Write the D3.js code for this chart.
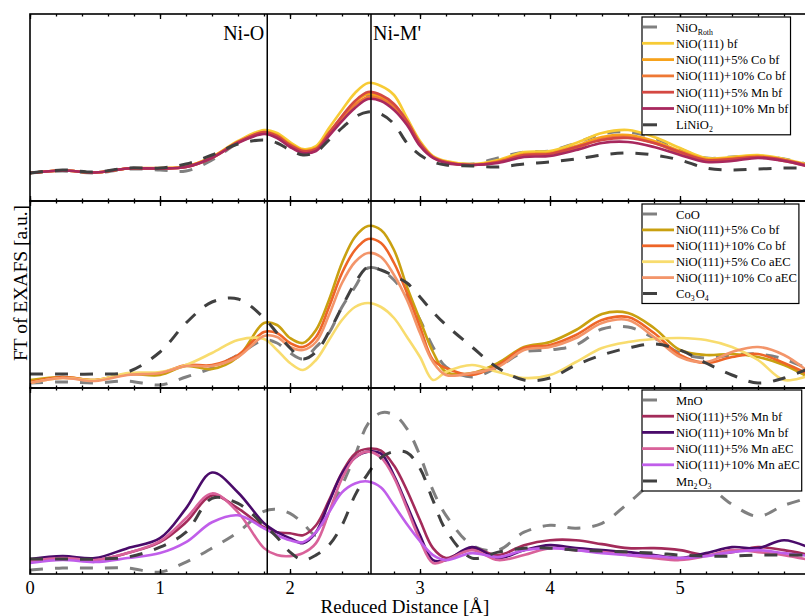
<!DOCTYPE html>
<html>
<head>
<meta charset="utf-8">
<script src="https://cdn.jsdelivr.net/npm/d3@7"></script>
<style>
  body { margin: 0; background: #fff; }
  text { font-family: "Liberation Serif", "Times New Roman", serif; }
</style>
</head>
<body>
<div id="wrapper"></div>
<script>
// shared x grid (reduced distance, Å)
const xGrid = [0, 0.25, 0.5, 0.75, 1.0, 1.2, 1.4, 1.6, 1.8, 1.9, 2.0, 2.1, 2.2, 2.3, 2.4, 2.5, 2.6, 2.7, 2.8, 2.9,
  3.0, 3.1, 3.2, 3.4, 3.6, 3.8, 4.0, 4.2, 4.4, 4.6, 4.8, 5.0, 5.2, 5.4, 5.6, 5.8, 6.0];
const xTicks = [0, 1, 2, 3, 4, 5, 6];
const markers = [1.825, 2.623];
const markerLabels = ["Ni-O", "Ni-M'"];

// panel 1 : Ni references and bf samples
const niORoth   = [2.8,3.0,2.8,3.2,3.1,3.0,4.1,5.8,6.8,6.4,5.5,4.9,5.1,6.7,8.3,9.7,10.5,10.3,9.5,7.9,5.7,4.4,3.9,3.7,4.3,4.9,5.0,5.8,6.7,6.9,6.3,5.2,4.3,4.4,4.5,4.2,3.6];
const nio111bf  = [2.8,3.05,2.85,3.25,3.25,3.45,4.4,6.0,7.1,6.8,5.9,5.2,5.5,7.3,9.1,10.8,11.8,11.5,10.6,8.3,6.0,4.5,4.0,3.7,4.1,4.9,5.0,5.8,6.8,7.1,6.4,5.3,4.3,4.4,4.6,4.2,3.6];
const co5bf_1   = [2.8,3.05,2.85,3.25,3.3,3.45,4.4,5.9,6.9,6.6,5.7,5.1,5.3,6.9,8.4,9.9,10.7,10.4,9.6,7.9,5.7,4.4,3.9,3.6,4.0,4.7,4.8,5.5,6.4,6.6,6.0,5.0,4.2,4.3,4.5,4.1,3.5];
const co10bf_1  = [2.8,3.05,2.85,3.25,3.25,3.4,4.3,5.85,6.8,6.4,5.5,4.9,5.1,6.7,8.2,9.6,10.4,10.2,9.4,7.8,5.6,4.35,3.85,3.6,3.9,4.6,4.7,5.3,6.2,6.4,5.8,4.8,4.0,4.1,4.4,4.0,3.45];
const mn5bf_1   = [2.8,3.05,2.85,3.25,3.25,3.4,4.35,5.9,6.9,6.5,5.6,5.0,5.2,6.8,8.5,10.0,10.9,10.6,9.7,8.0,5.8,4.4,3.9,3.6,3.9,4.6,4.7,5.4,6.1,6.3,5.8,4.9,4.1,4.2,4.4,4.1,3.5];
const mn10bf_1  = [2.8,3.05,2.85,3.25,3.25,3.4,4.3,5.8,6.7,6.3,5.4,4.8,5.0,6.5,8.0,9.3,10.2,10.0,9.1,7.6,5.5,4.3,3.8,3.6,3.8,4.4,4.5,5.1,5.8,5.9,5.4,4.6,3.9,4.0,4.3,4.0,3.4];
const liNiO2    = [2.8,3.1,2.9,3.3,3.3,3.7,4.6,5.7,6.1,5.8,5.1,4.6,4.9,6.1,7.3,8.4,8.9,8.7,7.7,5.8,4.6,3.9,3.6,3.5,3.4,3.7,3.9,4.2,4.6,4.8,4.6,4.1,3.3,3.1,3.2,3.3,3.3];

// panel 2 : Co
const coO       = [0.5,0.6,0.5,0.7,0.3,1.1,2.0,3.3,4.8,4.5,3.5,2.9,4.1,5.5,8.1,10.1,12.0,11.8,10.8,9.1,6.8,4.1,2.1,1.1,2.1,3.6,3.8,4.3,5.9,6.1,5.0,3.5,3.0,3.3,3.4,2.9,1.8];
const co5bf     = [0.8,1.1,0.8,1.4,1.3,2.2,1.9,3.1,6.5,6.3,5.0,4.5,5.8,8.8,12.5,15.1,16.2,15.8,13.8,10.1,6.8,3.6,1.6,1.5,2.5,4.1,4.6,5.8,7.4,7.5,6.0,3.8,3.3,3.4,3.1,2.3,1.0];
const co10bf    = [0.6,1.1,0.8,1.4,1.5,2.3,2.3,3.3,5.6,5.5,4.5,4.1,5.1,8.1,11.5,13.8,14.9,14.5,12.5,9.5,6.1,2.8,2.0,1.3,2.3,4.0,4.3,5.3,6.8,7.1,5.5,3.3,2.5,3.1,3.4,2.5,1.3];
const co5aec    = [0.5,1.0,0.8,1.5,1.6,2.3,3.5,4.8,4.9,3.8,2.5,1.8,2.8,4.8,6.8,8.1,8.5,8.1,7.0,5.1,3.1,0.8,1.6,2.3,1.6,1.0,1.3,2.6,4.0,4.6,4.9,5.0,4.8,4.1,2.8,0.8,1.3];
const co10aec   = [0.5,1.0,0.7,1.3,1.5,2.2,2.2,3.1,5.2,5.1,4.1,3.8,4.6,7.3,10.5,12.6,13.5,13.1,11.3,8.8,5.5,2.6,1.3,1.5,2.1,3.8,4.1,5.0,6.5,6.8,5.1,3.1,2.6,3.6,4.1,3.3,1.5];
const co3O4     = [1.4,1.4,1.4,1.6,3.6,6.5,8.6,8.9,7.0,5.5,4.0,2.9,3.6,5.6,8.1,10.5,12.1,11.8,11.2,10.5,9.1,7.6,6.3,4.1,2.0,0.8,1.0,2.3,3.3,4.0,4.4,3.8,2.5,1.3,0.5,1.0,2.0];

// panel 3 : Mn
const mnO       = [0.4,0.6,0.6,0.6,0.2,1.2,2.6,4.2,6.3,6.5,6.1,5.1,3.9,6.2,8.9,11.9,15.1,16.2,16.0,14.6,11.9,8.4,5.9,2.9,2.4,4.2,4.9,4.6,5.1,7.1,9.2,9.9,9.0,7.0,5.8,6.9,7.7];
const mn5bf     = [1.4,1.7,1.4,2.1,3.2,5.2,7.9,6.6,4.7,4.2,4.1,3.9,4.9,7.4,10.2,12.1,12.6,12.4,10.9,8.4,5.4,2.6,1.6,2.6,1.9,2.9,3.4,3.4,3.0,2.6,2.6,2.4,1.9,2.2,2.7,2.4,1.9];
const mn10bf    = [1.5,1.8,1.6,2.6,3.6,6.6,10.2,8.2,5.1,4.2,3.6,3.1,4.2,7.2,10.1,11.7,12.3,12.1,9.9,6.9,3.9,1.4,1.4,2.7,1.6,2.4,2.9,2.6,2.4,2.2,1.9,1.6,2.1,2.7,2.6,3.4,2.6];
const mn5aec    = [1.3,1.6,1.4,2.1,3.3,5.6,8.1,6.2,2.6,1.9,1.8,2.1,3.1,6.2,9.6,11.7,12.3,11.7,9.7,6.6,3.4,1.1,1.4,2.4,1.4,1.9,2.6,2.4,2.2,1.9,1.6,1.4,1.8,2.4,2.2,1.9,1.4];
const mn10aec   = [1.1,1.4,1.2,1.6,2.1,3.2,5.2,5.9,4.6,3.9,3.4,3.2,4.2,6.2,8.2,9.1,9.3,8.7,6.9,5.0,3.3,1.9,1.4,2.1,1.7,2.4,2.6,2.4,2.1,1.9,1.8,1.6,1.8,2.2,2.4,2.1,1.8];
const mn2O3     = [1.5,1.5,1.5,1.7,2.7,4.2,7.6,7.1,4.9,3.7,2.2,1.4,1.9,2.9,4.9,7.9,10.1,11.7,12.3,12.2,10.6,7.4,4.4,1.6,2.2,2.6,2.6,2.4,2.3,2.2,2.1,1.9,1.8,1.8,1.9,1.9,1.9];

const GRAY = "#808080", DARK = "#404040";

const panels = [
  { top: 14, bottom: 201, series: [
    { label: "NiO_{Roth}", values: niORoth, color: GRAY, dash: true },
    { label: "NiO(111) bf", values: nio111bf, color: "#F7CB35" },
    { label: "NiO(111)+5% Co bf", values: co5bf_1, color: "#F7A21B" },
    { label: "NiO(111)+10% Co bf", values: co10bf_1, color: "#EE7835" },
    { label: "NiO(111)+5% Mn bf", values: mn5bf_1, color: "#D44842" },
    { label: "NiO(111)+10% Mn bf", values: mn10bf_1, color: "#A8285E" },
    { label: "LiNiO_{2}", values: liNiO2, color: DARK, dash: true }
  ], legend: { top: 17, rowH: 16.3 } },
  { top: 201, bottom: 388, series: [
    { label: "CoO", values: coO, color: GRAY, dash: true },
    { label: "NiO(111)+5% Co bf", values: co5bf, color: "#C9A010" },
    { label: "NiO(111)+10% Co bf", values: co10bf, color: "#EE6528" },
    { label: "NiO(111)+5% Co aEC", values: co5aec, color: "#F8DC6E" },
    { label: "NiO(111)+10% Co aEC", values: co10aec, color: "#F3956A" },
    { label: "Co_{3}O_{4}", values: co3O4, color: DARK, dash: true }
  ], legend: { top: 204, rowH: 15.9 } },
  { top: 388, bottom: 574, series: [
    { label: "MnO", values: mnO, color: GRAY, dash: true },
    { label: "NiO(111)+5% Mn bf", values: mn5bf, color: "#A32B5A" },
    { label: "NiO(111)+10% Mn bf", values: mn10bf, color: "#4A0B6A" },
    { label: "NiO(111)+5% Mn aEC", values: mn5aec, color: "#D9629A" },
    { label: "NiO(111)+10% Mn aEC", values: mn10aec, color: "#C05EEA" },
    { label: "Mn_{2}O_{3}", values: mn2O3, color: DARK, dash: true }
  ], legend: { top: 390, rowH: 16.2 } }
];

const dimension = { width: 805, height: 616, left: 30, right: 810 };

const svg = d3.select("#wrapper").append("svg")
  .attr("width", dimension.width)
  .attr("height", dimension.height);

const xScaler = d3.scaleLinear().domain([0, 6]).range([dimension.left, dimension.right]);

const line = (yScaler) => d3.line()
  .x((d, i) => xScaler(xGrid[i]))
  .y(d => yScaler(d))
  .curve(d3.curveCatmullRom.alpha(0.5));

function addLabel(sel, label, fs) {
  // "_{..}" -> subscript
  const parts = label.split(/(_\{[^}]*\})/).filter(p => p.length);
  parts.forEach(p => {
    if (p.startsWith("_{")) {
      sel.append("tspan").attr("font-size", fs * 0.62).attr("dy", 3).text(p.slice(2, -1));
      sel.append("tspan").attr("dy", -3).text("\u200A");
    } else {
      sel.append("tspan").text(p);
    }
  });
}

panels.forEach((p, k) => {
  const yScaler = d3.scaleLinear().domain([0, 18.7]).range([p.bottom, p.top]);
  const g = svg.append("g");

  g.append("clipPath").attr("id", "clip" + k)
    .append("rect").attr("x", dimension.left).attr("y", p.top)
    .attr("width", dimension.right - dimension.left).attr("height", p.bottom - p.top);

  const plot = g.append("g").attr("clip-path", `url(#clip${k})`);
  plot.selectAll("path")
    .data(p.series)
    .join("path")
    .attr("d", s => line(yScaler)(s.values))
    .attr("fill", "none")
    .attr("stroke", s => s.color)
    .attr("stroke-width", s => s.dash ? 3 : 2.6)
    .attr("stroke-dasharray", s => s.dash ? "13 12" : null);

  // ticks inward on top and bottom
  const major = (ax) => ax.scale(xScaler).tickValues(xTicks).tickSize(-5).tickFormat("");
  const minor = (ax) => ax.scale(xScaler).tickValues(d3.range(0, 6.01, 0.2)).tickSize(-2.5).tickFormat("");
  [d3.axisTop, d3.axisBottom].forEach(fn => {
    const y = fn === d3.axisTop ? p.top : p.bottom;
    [minor, major].forEach(m => {
      const a = g.append("g").attr("transform", `translate(0,${y})`).call(m(fn()));
      a.select(".domain").remove();
      a.selectAll("line").attr("stroke", "#000").attr("stroke-width", 1.3);
    });
  });

  g.append("rect")
    .attr("x", dimension.left).attr("y", p.top)
    .attr("width", dimension.right - dimension.left).attr("height", p.bottom - p.top)
    .attr("fill", "none").attr("stroke", "#000").attr("stroke-width", 1.6);
});

// marker lines over all panels
svg.selectAll(".marker")
  .data(markers)
  .join("line")
  .attr("x1", d => xScaler(d)).attr("x2", d => xScaler(d))
  .attr("y1", panels[0].top).attr("y2", panels[2].bottom)
  .attr("stroke", "#000").attr("stroke-width", 1.5);

svg.append("text").attr("x", xScaler(markers[0]) - 3).attr("y", 40)
  .attr("text-anchor", "end").attr("font-size", 20).text(markerLabels[0]);
svg.append("text").attr("x", xScaler(markers[1]) + 2).attr("y", 40)
  .attr("font-size", 20).text(markerLabels[1]);

// legends
const legendFont = 12.6;
panels.forEach(p => {
  const lg = svg.append("g");
  const box = lg.append("rect").attr("fill", "#fff").attr("stroke", "#000").attr("stroke-width", 1.2);
  let maxW = 0;
  p.series.forEach((s, i) => {
    const cy = p.legend.top + 10 + i * p.legend.rowH;
    if (s.dash) {
      lg.append("line").attr("x1", 643).attr("x2", 657).attr("y1", cy).attr("y2", cy)
        .attr("stroke", s.color).attr("stroke-width", 3);
    } else {
      lg.append("line").attr("x1", 642).attr("x2", 674).attr("y1", cy).attr("y2", cy)
        .attr("stroke", s.color).attr("stroke-width", 2.8);
    }
    const t = lg.append("text").attr("x", 676).attr("y", cy + 4.5).attr("font-size", legendFont);
    addLabel(t, s.label, legendFont);
    maxW = Math.max(maxW, t.node().getComputedTextLength());
  });
  const h = 20 + (p.series.length - 1) * p.legend.rowH;
  box.attr("x", 642).attr("y", p.legend.top).attr("width", 676 + maxW + 2 - 642).attr("height", h);
});

// tick labels and axis titles
svg.selectAll(".xtl")
  .data(xTicks)
  .join("text")
  .attr("x", d => xScaler(d)).attr("y", 594)
  .attr("text-anchor", "middle").attr("font-size", 18.5)
  .text(d => d);

svg.append("text").attr("x", 405).attr("y", 613)
  .attr("text-anchor", "middle").attr("font-size", 19)
  .text("Reduced Distance [Å]");

svg.append("text")
  .attr("transform", "translate(27,283) rotate(-90)")
  .attr("text-anchor", "middle").attr("font-size", 19.5)
  .text("FT of EXAFS [a.u.]");
</script>
</body>
</html>
